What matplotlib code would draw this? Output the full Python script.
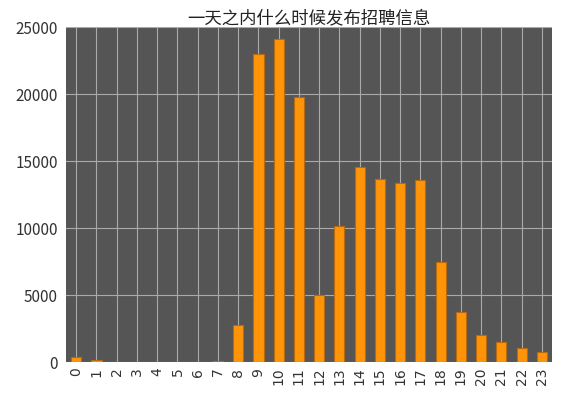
import matplotlib
matplotlib.use("Agg")
from matplotlib import pyplot as plt

plt.rcParams['font.family'] = ['Noto Sans CJK SC', 'DejaVu Sans']

# hour of day -> number of job posts
hours = [str(h) for h in range(24)]
counts = [370, 150, 20, 0, 0, 0, 0, 60, 2760, 22980, 24140, 19800,
          5000, 10150, 14580, 13630, 13360, 13580, 7460, 3750, 2010, 1470, 1070, 770]
title = "一天之内什么时候发布招聘信息"

fig = plt.figure(figsize=(5.65, 3.94), dpi=100)
ax = fig.add_axes([0.117, 0.081, 0.860, 0.850])
ax.set_facecolor("#555555")

x = range(len(hours))
ax.bar(x, counts, width=0.5, color="#FF9408", edgecolor="#B86A10", linewidth=0.8, zorder=3)

ax.set_xlim(-0.5, len(hours) - 0.5)
ax.set_ylim(0, 25000)
ax.set_yticks(range(0, 25001, 5000))
ax.set_xticks(list(x))
ax.set_xticklabels(hours, rotation=90, family="DejaVu Sans", fontsize=10, color="#333333")
ax.tick_params(axis="y", labelsize=11, labelcolor="#333333", length=0, pad=6)
ax.tick_params(axis="x", length=0, pad=4)

ax.grid(True, color="#AAAAAA", linewidth=0.8, zorder=0)
ax.set_axisbelow(True)
for s in ax.spines.values():
    s.set_visible(False)

ax.set_title(title, fontsize=12.5, color="#222222", pad=3)

fig.savefig("out.png", dpi=100)
